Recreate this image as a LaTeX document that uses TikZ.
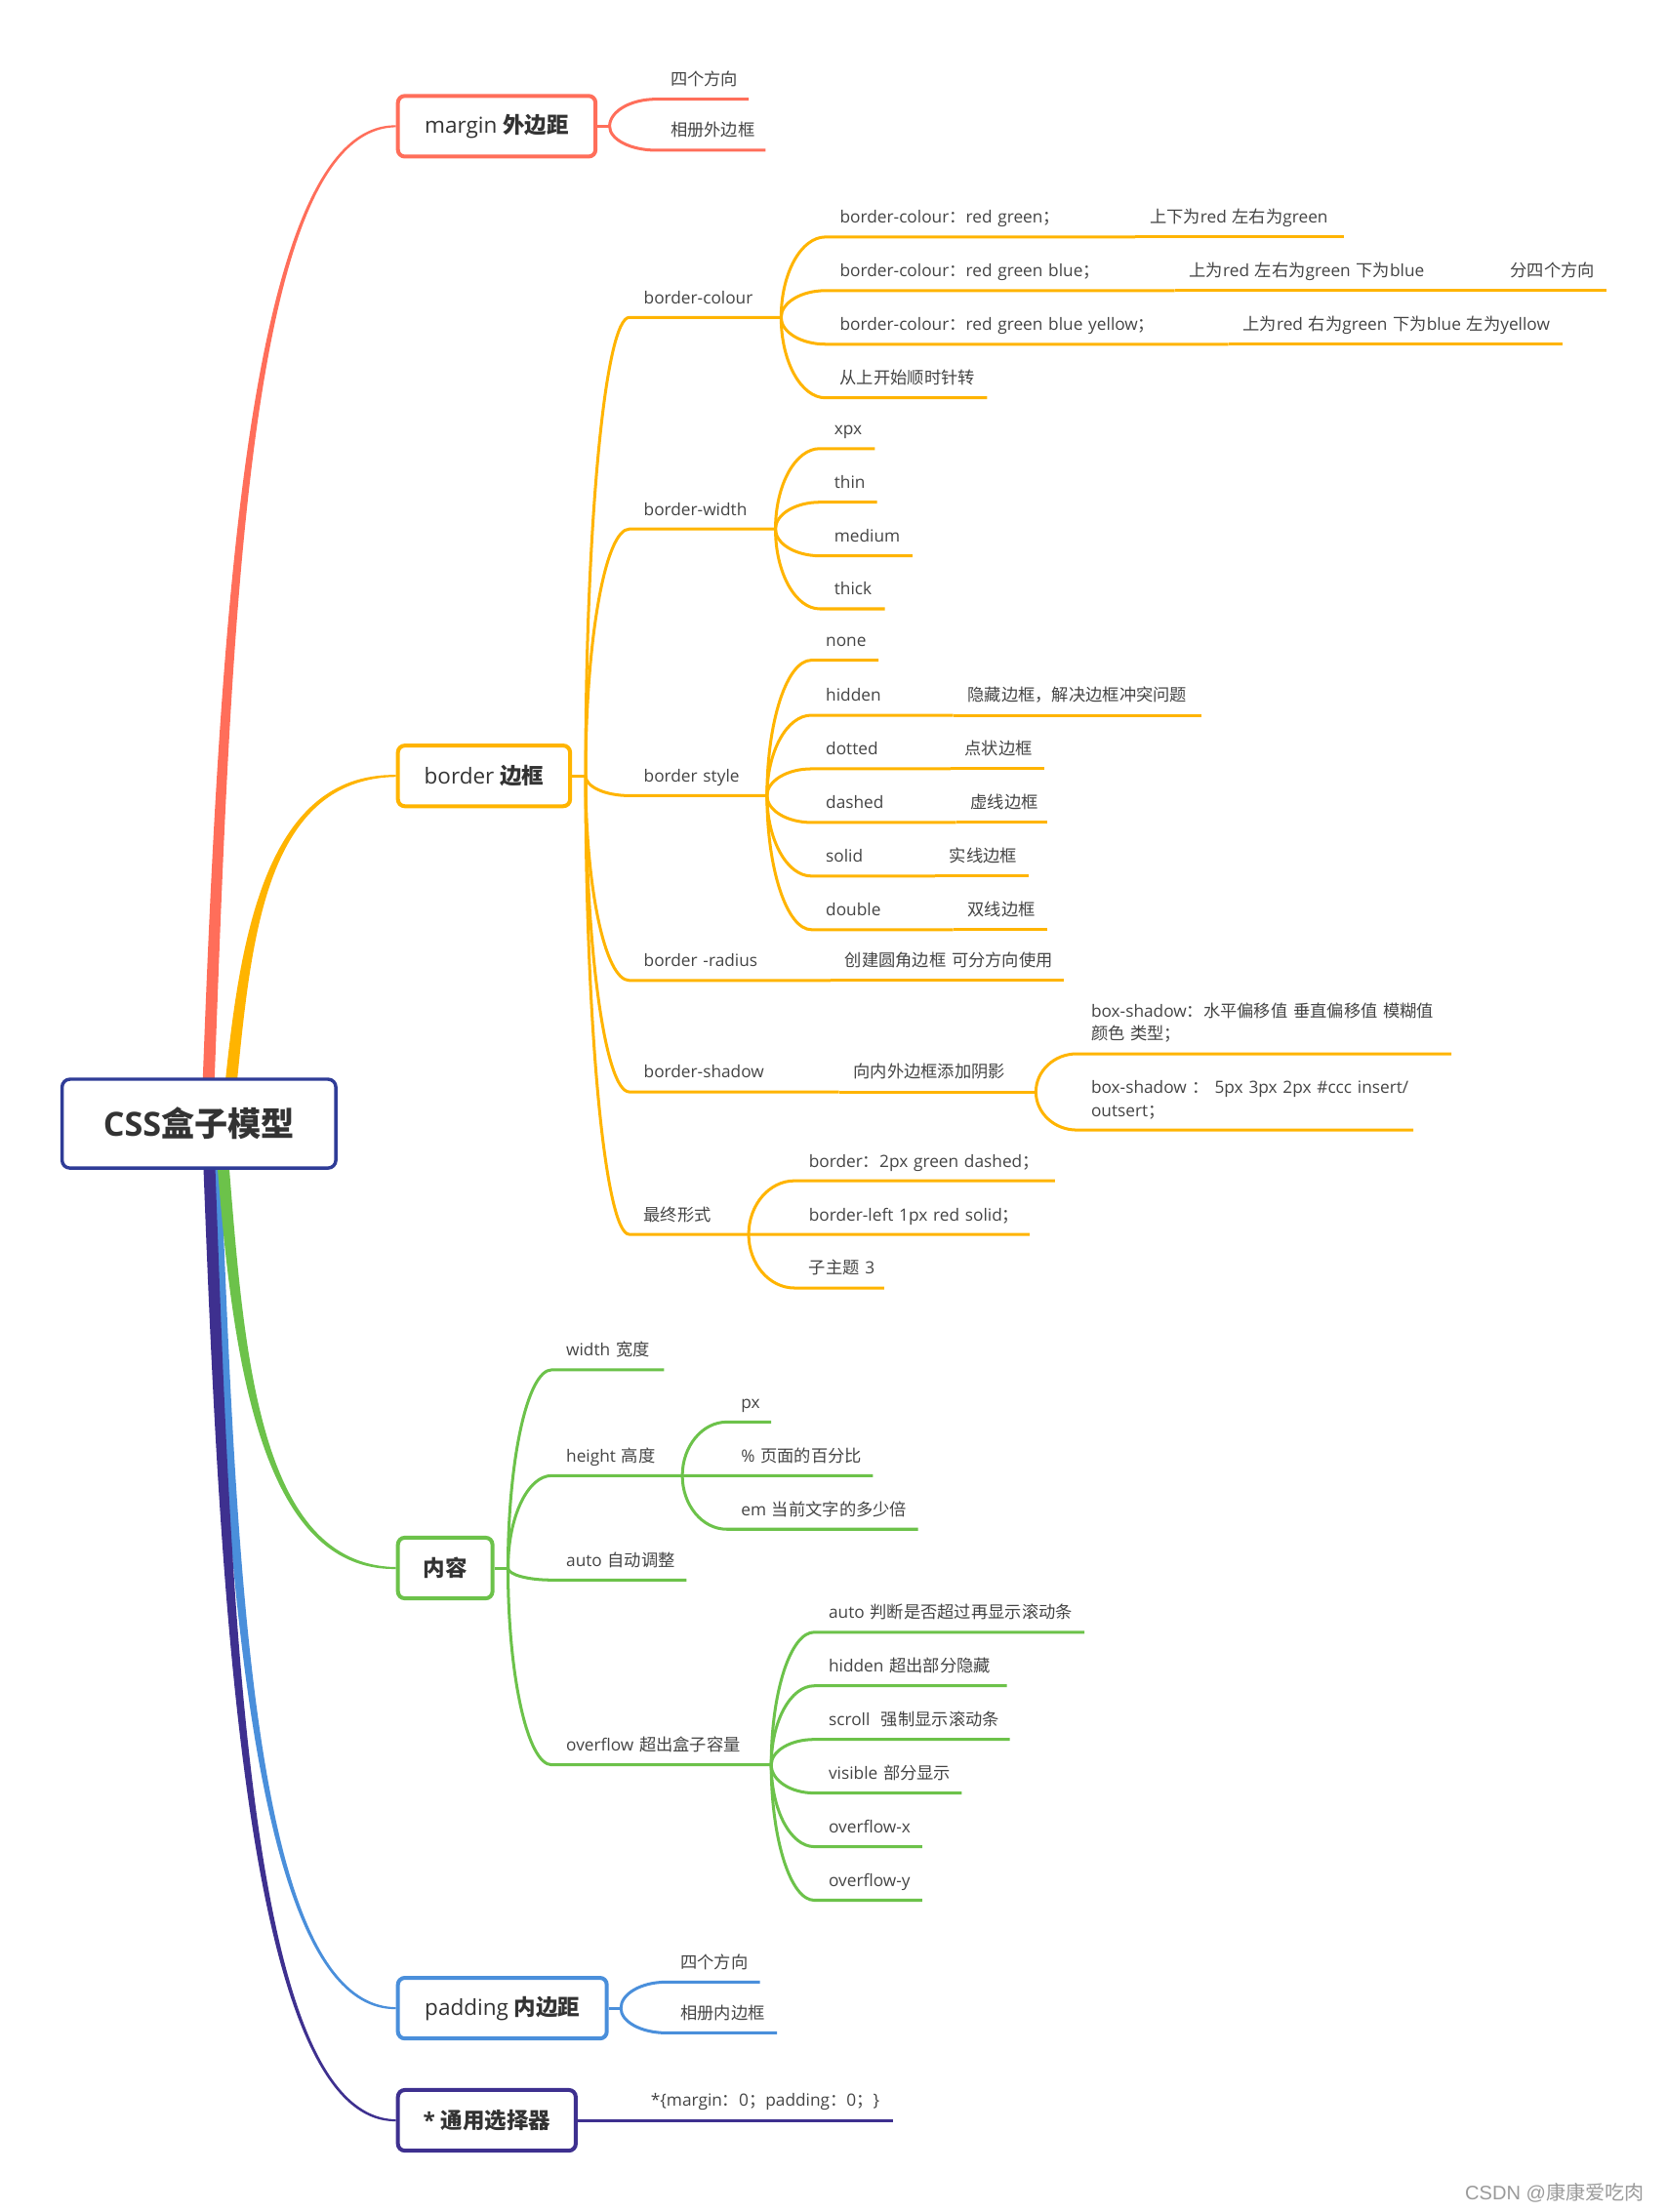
\documentclass[tikz,border=0pt]{standalone}
\usepackage{fontspec}
\setmainfont{Open Sans}
\newfontfamily\cjkfont{Noto Sans CJK SC}
\newfontfamily\wmfont{Liberation Sans}
\usetikzlibrary{calc}
\definecolor{mmred}{HTML}{FF6E5A}
\definecolor{mmorange}{HTML}{FFB400}
\definecolor{mmgreen}{HTML}{6CC24A}
\definecolor{mmblue}{HTML}{4A8FDB}
\definecolor{mmpurple}{HTML}{3E308F}
\definecolor{mmnavy}{HTML}{2F3C97}
\definecolor{mmink}{HTML}{333333}
\definecolor{mmleaf}{HTML}{444444}
\definecolor{mmwater}{HTML}{9A9A9A}
\newlength\ux \setlength\ux{0.72pt}
\newlength\lpad \setlength\lpad{7.2pt}
\newcommand\zh[1]{{\cjkfont #1}}
\newcommand\twolines[2]{\begin{tabular}[b]{@{}l@{}}#1\\#2\end{tabular}}
% tapered main branch: colour, root, target, 1 = upwards / -1 = downwards
\newcommand\limb[4]{%
  \fill[#1] let \p1=(#2), \p2=(#3) in
    ({\x1-3pt},\y1)
    .. controls ({\x1+0.09*(\x2-\x1)-3pt},{\y1+0.47*(\y2-\y1)})
       and ({\x1+0.2*(\x2-\x1)},{\y2+(#4)*1.6pt})
    .. (\x2,{\y2+(#4)*0.5pt})
    -- (\x2,{\y2-(#4)*0.5pt})
    .. controls ({\x1+0.2*(\x2-\x1)},{\y2-(#4)*1.6pt})
       and ({\x1+0.09*(\x2-\x1)+3pt},{\y1+0.47*(\y2-\y1)})
    .. ({\x1+3pt},\y1) -- cycle;}
\pgfdeclarelayer{background}
\pgfsetlayers{background,main}
\tikzset{
  mm root/.style={draw=mmnavy, line width=1.7pt, rounded corners=4pt, fill=white,
    minimum width=194\ux, minimum height=63\ux, text=mmink,
    font=\fontsize{17}{20}\selectfont\bfseries},
  mm topic/.style={draw=#1, line width=2pt, rounded corners=3.5pt, fill=white,
    minimum height=43\ux, inner xsep=0pt, text=mmink,
    font=\fontsize{11.2}{13}\selectfont},
  mm leaf/.style={anchor=south west, inner xsep=0pt, inner ysep=4.4pt,
    text depth=2.4pt, text width=#1\ux, align=left, text=mmleaf,
    font=\fontsize{8.6}{11.5}\selectfont,
    execute at begin node={\noindent\hbox\bgroup\hskip\lpad},
    execute at end node={\egroup}},
  mm bough/.style={draw=#1, line width=1.5pt}
}
\begin{document}
\begin{tikzpicture}[x=0.72pt, y=-0.72pt]
  \useasboundingbox (0,0) rectangle (1181,1568);
  % central topic and main topics
  \node[mm root] (css) at (141,796.5) {CSS\zh{盒子模型}};
  \node[mm topic=mmred, minimum width=140\ux] (mg) at (352,89.5) {margin \zh{\bfseries 外边距}};
  \node[mm topic=mmorange, minimum width=122\ux] (bd) at (343,550) {border \zh{\bfseries 边框}};
  \node[mm topic=mmgreen, minimum width=67\ux] (ct) at (315.5,1111.5) {\zh{\bfseries 内容}};
  \node[mm topic=mmblue, minimum width=148\ux] (pd) at (356,1423.5) {padding \zh{\bfseries 内边距}};
  \node[mm topic=mmpurple, minimum width=126\ux] (sel) at (345,1503) {\bfseries * \zh{通用选择器}};
  \coordinate (mgroot) at (147.5,775);
  \coordinate (bdroot) at (163,775);
  \coordinate (ctroot) at (157.5,818);
  \coordinate (pdroot) at (152,818);
  \coordinate (selroot) at (148,818);
  \coordinate (mgj) at (432,89.5);
  \coordinate (bdj) at (415,550);
  \coordinate (ctj) at (360,1111.5);
  \coordinate (pdj) at (440,1423.5);

  % margin
  \node[mm leaf=65] (mg1) at (465,70.3) {\zh{四个方向}};
  \node[mm leaf=77] (mg2) at (465,106.5) {\zh{相册外边框}};

  % border
  \node[mm leaf=107] (bc) at (446,225) {border-colour};
  \node[mm leaf=219] (bc1) at (585,168) {border-colour\zh{：}red green\zh{；}};
  \node[mm leaf=147] (bc1a) at (bc1.south east) {\zh{上下为}red \zh{左右为}green};
  \node[mm leaf=247] (bc2) at (585,206) {border-colour\zh{：}red green blue\zh{；}};
  \node[mm leaf=227] (bc2a) at (bc2.south east) {\zh{上为}red \zh{左右为}green \zh{下为}blue};
  \node[mm leaf=78] (bc2b) at (bc2a.south east) {\zh{分四个方向}};
  \node[mm leaf=285] (bc3) at (585,244) {border-colour\zh{：}red green blue yellow\zh{；}};
  \node[mm leaf=236] (bc3a) at (bc3.south east) {\zh{上为}red \zh{右为}green \zh{下为}blue \zh{左为}yellow};
  \node[mm leaf=114] (bc4) at (585,282) {\zh{从上开始顺时针转}};

  \node[mm leaf=103] (bw) at (446,375) {border-width};
  \node[mm leaf=38.5] (bw1) at (581,318) {xpx};
  \node[mm leaf=40] (bw2) at (581,356) {thin};
  \node[mm leaf=65] (bw3) at (581,394) {medium};
  \node[mm leaf=45.5] (bw4) at (581,431.6) {thick};

  \node[mm leaf=97] (bs) at (446,564) {border style};
  \node[mm leaf=47] (bs1) at (575,468) {none};
  \node[mm leaf=100] (bs2) at (575,507) {hidden};
  \node[mm leaf=175] (bs2a) at (bs2.south east) {\zh{隐藏边框，解决边框冲突问题}};
  \node[mm leaf=98] (bs3) at (575,545) {dotted};
  \node[mm leaf=66] (bs3a) at (bs3.south east) {\zh{点状边框}};
  \node[mm leaf=102] (bs4) at (575,583) {dashed};
  \node[mm leaf=64] (bs4a) at (bs4.south east) {\zh{虚线边框}};
  \node[mm leaf=87] (bs5) at (575,621) {solid};
  \node[mm leaf=66] (bs5a) at (bs5.south east) {\zh{实线边框}};
  \node[mm leaf=100] (bs6) at (575,659) {double};
  \node[mm leaf=66] (bs6a) at (bs6.south east) {\zh{双线边框}};

  \node[mm leaf=142] (br) at (446,695) {border -radius};
  \node[mm leaf=165] (br1) at (br.south east) {\zh{创建圆角边框 可分方向使用}};

  \node[mm leaf=148] (bsh) at (446,774) {border-shadow};
  \node[mm leaf=139] (bsh1) at (bsh.south east) {\zh{向内外边框添加阴影}};
  \node[mm leaf=265] (bsh2) at (763,747)
    {\twolines{box-shadow\zh{：水平偏移值 垂直偏移值 模糊值}}{\zh{颜色 类型；}}};
  \node[mm leaf=238] (bsh3) at (763,801)
    {\twolines{box-shadow \zh{：} 5px 3px 2px \#ccc insert/}{outsert\zh{；}}};

  \node[mm leaf=84] (bf) at (446,875) {\zh{最终形式}};
  \node[mm leaf=184] (bf1) at (563,837) {border\zh{：}2px green dashed\zh{；}};
  \node[mm leaf=166] (bf2) at (563,875) {border-left 1px red solid\zh{；}};
  \node[mm leaf=63] (bf3) at (563,913) {\zh{子主题} 3};

  % content
  \node[mm leaf=79] (cw) at (391,971) {width \zh{宽度}};
  \node[mm leaf=92] (ch) at (391,1046) {height \zh{高度}};
  \node[mm leaf=31] (ch1) at (515,1008) {px};
  \node[mm leaf=103] (ch2) at (515,1046) {\% \zh{页面的百分比}};
  \node[mm leaf=135] (ch3) at (515,1084) {em \zh{当前文字的多少倍}};
  \node[mm leaf=95] (ca) at (391,1120) {auto \zh{自动调整}};
  \node[mm leaf=155] (co) at (391,1251) {overflow \zh{超出盒子容量}};
  \node[mm leaf=191] (co1) at (577,1157) {auto \zh{判断是否超过再显示滚动条}};
  \node[mm leaf=136] (co2) at (577,1195) {hidden \zh{超出部分隐藏}};
  \node[mm leaf=138] (co3) at (577,1233) {scroll\ \ \zh{强制显示滚动条}};
  \node[mm leaf=104] (co4) at (577,1271) {visible \zh{部分显示}};
  \node[mm leaf=76] (co5) at (577,1309) {overflow-x};
  \node[mm leaf=76] (co6) at (577,1347) {overflow-y};

  % padding
  \node[mm leaf=66] (pd1) at (472,1405) {\zh{四个方向}};
  \node[mm leaf=78] (pd2) at (472,1441) {\zh{相册内边框}};

  % universal selector
  \node[mm leaf=181] (sel1) at (451,1503) {*\{margin\zh{：}0\zh{；}padding\zh{：}0\zh{；}\}};

  \node[anchor=base east, text=mmwater, font=\wmfont\fontsize{10}{12}\selectfont] (wm)
    at (1170,1559) {CSDN @\zh{康康爱吃肉}};

  \begin{pgfonlayer}{background}
    \limb{mmred}{mgroot}{mg.west}{1}
    \limb{mmorange}{bdroot}{bd.west}{1}
    \limb{mmblue}{pdroot}{pd.west}{-1}
    \limb{mmpurple}{selroot}{sel.west}{-1}
    \limb{mmgreen}{ctroot}{ct.west}{-1}

    \draw[mm bough=mmred] (mg.east) -- (mgj);
    \foreach \c in {mg1,mg2}
      \draw[mm bough=mmred] (mgj) .. controls ($(mgj)!0.55!(mgj |- \c.south west)$)
        and ($(\c.south west)!0.55!(mgj |- \c.south west)$) .. (\c.south west) -- (\c.south east);

    \draw[mm bough=mmorange] (bd.east) -- (bdj);
    \foreach \p/\c in {bdj/bc, bdj/bw, bdj/bs, bdj/br, bdj/bsh, bdj/bf,
        bc.south east/bc1, bc1.south east/bc1a, bc.south east/bc2, bc2.south east/bc2a,
        bc2a.south east/bc2b, bc.south east/bc3, bc3.south east/bc3a, bc.south east/bc4,
        bw.south east/bw1, bw.south east/bw2, bw.south east/bw3, bw.south east/bw4,
        bs.south east/bs1, bs.south east/bs2, bs2.south east/bs2a, bs.south east/bs3,
        bs3.south east/bs3a, bs.south east/bs4, bs4.south east/bs4a, bs.south east/bs5,
        bs5.south east/bs5a, bs.south east/bs6, bs6.south east/bs6a,
        br.south east/br1, bsh.south east/bsh1, bsh1.south east/bsh2, bsh1.south east/bsh3,
        bf.south east/bf1, bf.south east/bf2, bf.south east/bf3}
      \draw[mm bough=mmorange] (\p) .. controls ($(\p)!0.55!(\p |- \c.south west)$)
        and ($(\c.south west)!0.55!(\p |- \c.south west)$) .. (\c.south west) -- (\c.south east);

    \draw[mm bough=mmgreen] (ct.east) -- (ctj);
    \foreach \p/\c in {ctj/cw, ctj/ch, ctj/ca, ctj/co,
        ch.south east/ch1, ch.south east/ch2, ch.south east/ch3,
        co.south east/co1, co.south east/co2, co.south east/co3,
        co.south east/co4, co.south east/co5, co.south east/co6}
      \draw[mm bough=mmgreen] (\p) .. controls ($(\p)!0.55!(\p |- \c.south west)$)
        and ($(\c.south west)!0.55!(\p |- \c.south west)$) .. (\c.south west) -- (\c.south east);

    \draw[mm bough=mmblue] (pd.east) -- (pdj);
    \foreach \c in {pd1,pd2}
      \draw[mm bough=mmblue] (pdj) .. controls ($(pdj)!0.55!(pdj |- \c.south west)$)
        and ($(\c.south west)!0.55!(pdj |- \c.south west)$) .. (\c.south west) -- (\c.south east);

    \draw[mm bough=mmpurple] (sel.east) -- (sel1.south west) -- (sel1.south east);
  \end{pgfonlayer}
\end{tikzpicture}
\end{document}
